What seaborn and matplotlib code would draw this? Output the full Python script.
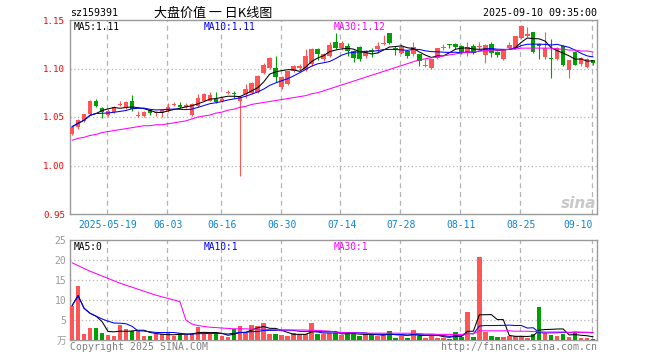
import numpy as np
import pandas as pd
import matplotlib
matplotlib.use("Agg")
import matplotlib.pyplot as plt
import seaborn as sns

# daily K-line of sz159391, 2025-05-09 .. 2025-09-10 (88 trading days)
opens = [1.032, 1.040, 1.046, 1.053, 1.067, 1.059, 1.052, 1.055, 1.062, 1.059,
         1.066, 1.051, 1.051, 1.057, 1.054, 1.054, 1.056, 1.062, 1.062, 1.060,
         1.052, 1.061, 1.067, 1.067, 1.069, 1.066, 1.075, 1.075, 1.066, 1.074,
         1.075, 1.076, 1.095, 1.101, 1.101, 1.081, 1.084, 1.097, 1.101, 1.098,
         1.105, 1.120, 1.110, 1.113, 1.127, 1.121, 1.123, 1.118, 1.122, 1.113,
         1.119, 1.120, 1.125, 1.137, 1.121, 1.116, 1.118, 1.115, 1.115, 1.103,
         1.101, 1.111, 1.121, 1.125, 1.125, 1.123, 1.116, 1.123, 1.122, 1.114,
         1.125, 1.117, 1.110, 1.121, 1.121, 1.131, 1.133, 1.138, 1.125, 1.112,
         1.111, 1.110, 1.123, 1.098, 1.117, 1.105, 1.102, 1.109]
closes = [1.040, 1.047, 1.053, 1.067, 1.061, 1.055, 1.056, 1.060, 1.063, 1.065,
          1.058, 1.052, 1.055, 1.054, 1.055, 1.057, 1.060, 1.063, 1.060, 1.062,
          1.063, 1.070, 1.074, 1.073, 1.065, 1.069, 1.076, 1.074, 1.071, 1.079,
          1.085, 1.092, 1.104, 1.111, 1.091, 1.091, 1.097, 1.103, 1.103, 1.113,
          1.120, 1.115, 1.115, 1.124, 1.121, 1.126, 1.118, 1.111, 1.110, 1.118,
          1.118, 1.123, 1.126, 1.126, 1.120, 1.122, 1.113, 1.122, 1.108, 1.104,
          1.110, 1.121, 1.122, 1.124, 1.122, 1.116, 1.122, 1.116, 1.123, 1.124,
          1.116, 1.114, 1.120, 1.124, 1.133, 1.144, 1.136, 1.117, 1.123, 1.121,
          1.110, 1.121, 1.104, 1.109, 1.104, 1.111, 1.110, 1.106]
highs = [1.041, 1.048, 1.053, 1.068, 1.069, 1.060, 1.058, 1.061, 1.066, 1.066,
         1.073, 1.056, 1.056, 1.058, 1.056, 1.058, 1.064, 1.065, 1.065, 1.064,
         1.064, 1.074, 1.075, 1.076, 1.076, 1.071, 1.078, 1.077, 1.072, 1.084,
         1.086, 1.093, 1.106, 1.112, 1.113, 1.092, 1.097, 1.104, 1.105, 1.120,
         1.121, 1.121, 1.116, 1.127, 1.137, 1.128, 1.126, 1.119, 1.123, 1.119,
         1.121, 1.127, 1.135, 1.137, 1.123, 1.125, 1.119, 1.127, 1.115, 1.110,
         1.110, 1.121, 1.125, 1.125, 1.126, 1.124, 1.127, 1.125, 1.127, 1.125,
         1.127, 1.118, 1.120, 1.127, 1.133, 1.145, 1.143, 1.138, 1.126, 1.138,
         1.130, 1.122, 1.124, 1.109, 1.118, 1.112, 1.111, 1.109]
lows = [1.031, 1.038, 1.045, 1.052, 1.060, 1.049, 1.051, 1.054, 1.061, 1.058,
        1.056, 1.050, 1.050, 1.052, 1.051, 1.050, 1.055, 1.061, 1.059, 1.059,
        1.051, 1.060, 1.066, 1.066, 1.064, 1.065, 1.074, 1.070, 0.989, 1.070,
        1.074, 1.075, 1.094, 1.100, 1.086, 1.079, 1.083, 1.096, 1.098, 1.097,
        1.103, 1.109, 1.108, 1.112, 1.120, 1.119, 1.113, 1.107, 1.108, 1.111,
        1.112, 1.116, 1.124, 1.125, 1.114, 1.115, 1.111, 1.113, 1.103, 1.102,
        1.100, 1.110, 1.119, 1.121, 1.120, 1.115, 1.113, 1.115, 1.120, 1.106,
        1.112, 1.112, 1.109, 1.120, 1.120, 1.130, 1.132, 1.116, 1.110, 1.110,
        1.090, 1.109, 1.103, 1.090, 1.104, 1.103, 1.101, 1.104]
# volume in 万手
volumes = [8.6, 13.6, 1.6, 2.9, 3.1, 1.8, 1.3, 1.1, 3.8, 2.8,
           2.3, 2.2, 1.1, 1.1, 1.4, 1.4, 1.7, 0.9, 1.8, 1.3,
           1.8, 3.3, 1.4, 1.4, 1.5, 0.9, 0.7, 2.7, 3.6, 1.7,
           3.8, 3.5, 4.2, 1.4, 1.6, 1.3, 1.0, 1.8, 1.4, 1.6,
           4.3, 1.4, 1.5, 1.8, 1.7, 1.25, 1.7, 1.7, 1.0, 1.4,
           1.4, 1.0, 1.4, 2.25, 0.6, 1.0, 0.6, 2.5, 1.1, 0.6,
           1.25, 0.6, 0.6, 0.3, 2.0, 0.8, 7.1, 0.8, 20.8, 2.1,
           1.0, 0.8, 0.8, 1.0, 1.0, 1.0, 0.6, 1.5, 8.3, 1.7,
           1.25, 1.0, 1.6, 0.8, 2.1, 0.4, 0.4, 0.3]
# 30-day averages (they need history before the window)
price_ma30 = [1.026, 1.028, 1.029, 1.031, 1.032, 1.034, 1.035, 1.036, 1.037, 1.038,
              1.039, 1.040, 1.041, 1.041, 1.042, 1.042, 1.043, 1.044, 1.045, 1.046,
              1.048, 1.050, 1.051, 1.052, 1.054, 1.055, 1.057, 1.058, 1.060, 1.061,
              1.063, 1.064, 1.065, 1.066, 1.067, 1.068, 1.069, 1.070, 1.071, 1.072,
              1.074, 1.075, 1.077, 1.079, 1.081, 1.083, 1.085, 1.087, 1.089, 1.091,
              1.093, 1.095, 1.097, 1.099, 1.101, 1.103, 1.105, 1.107, 1.109, 1.110,
              1.111, 1.112, 1.113, 1.114, 1.115, 1.116, 1.117, 1.117, 1.118, 1.118,
              1.119, 1.119, 1.119, 1.120, 1.120, 1.121, 1.121, 1.121, 1.121, 1.121,
              1.121, 1.120, 1.120, 1.119, 1.119, 1.118, 1.118, 1.117]
vol_ma30 = [19.3, 18.6, 17.9, 17.2, 16.6, 16.0, 15.4, 14.8, 14.2, 13.7,
            13.2, 12.7, 12.2, 11.7, 11.2, 10.8, 10.4, 10.0, 9.6, 5.0,
            4.0, 3.6, 3.4, 3.2, 3.1, 3.0, 2.9, 2.8, 2.8, 2.8,
            2.7, 2.7, 2.7, 2.6, 2.6, 2.5, 2.5, 2.5, 2.5, 2.5,
            2.4, 2.4, 2.3, 2.2, 2.0, 1.9, 1.8, 1.8, 1.7, 1.7,
            1.7, 1.7, 1.7, 1.7, 1.7, 1.7, 1.7, 1.7, 1.6, 1.5,
            1.5, 1.4, 1.4, 1.4, 1.4, 1.4, 1.6, 1.6, 2.3, 2.3,
            2.3, 2.3, 2.3, 2.3, 2.2, 2.2, 2.2, 2.1, 2.1, 2.0,
            2.0, 2.0, 2.0, 1.9, 1.9, 1.9, 1.9, 1.9]

tick_pos = [6, 16, 25, 35, 45, 55, 65, 75, 87]
tick_labels = ["2025-05-19", "06-03", "06-16", "06-30", "07-14",
               "07-28", "08-11", "08-25", "09-10"]

RED = "#ff5555"
GREEN = "#00a000"
GRID = "#b4b4b4"
MONO = "DejaVu Sans Mono"

df = pd.DataFrame({"open": opens, "high": highs, "low": lows, "close": closes,
                   "vol": volumes, "ma30": price_ma30, "vma30": vol_ma30})
df["x"] = np.arange(len(df))
df["ma5"] = df["close"].rolling(5, min_periods=1).mean()
df["ma10"] = df["close"].rolling(10, min_periods=1).mean()
df["vma5"] = df["vol"].rolling(5, min_periods=1).mean()
df["vma10"] = df["vol"].rolling(10, min_periods=1).mean()
df["dir"] = np.where(df["close"] >= df["open"], "up", "down")
colors = np.where(df["dir"] == "up", RED, GREEN)

sns.set_theme(style="white")
plt.rcParams["font.family"] = [MONO, "Noto Sans CJK SC"]

W, H = 660, 360
fig = plt.figure(figsize=(6.6, 3.6), dpi=100)


def box(l, t, r, b):
    return [l / W, 1 - b / H, (r - l) / W, (b - t) / H]


ax = fig.add_axes(box(70, 20, 597, 214))
axv = fig.add_axes(box(70, 240, 597, 340))

# candles
ax.vlines(df["x"], df["low"], df["high"], colors=colors, linewidth=0.8, zorder=3)
body_lo = np.minimum(df["open"], df["close"])
body_h = np.maximum((df["close"] - df["open"]).abs(), 0.0009)
ax.bar(df["x"], body_h, bottom=body_lo, width=0.76, color=colors, linewidth=0, zorder=4)

sns.lineplot(data=df, x="x", y="ma5", ax=ax, color="black", linewidth=0.75, zorder=5)
sns.lineplot(data=df, x="x", y="ma10", ax=ax, color="#0000ff", linewidth=0.75, zorder=5)
sns.lineplot(data=df, x="x", y="ma30", ax=ax, color="#ff00ff", linewidth=0.75, zorder=5)

# volume
sns.barplot(data=df, x="x", y="vol", hue="dir", palette={"up": RED, "down": GREEN},
            dodge=False, native_scale=True, width=0.76, errorbar=None,
            saturation=1, legend=False, linewidth=0, ax=axv, zorder=3)
sns.lineplot(data=df, x="x", y="vma5", ax=axv, color="black", linewidth=0.75, zorder=5)
sns.lineplot(data=df, x="x", y="vma10", ax=axv, color="#0000ff", linewidth=0.75, zorder=5)
sns.lineplot(data=df, x="x", y="vma30", ax=axv, color="#ff00ff", linewidth=0.75, zorder=5)

for a in (ax, axv):
    a.set_xlim(-0.35, 87.65)
    a.set_xlabel("")
    a.set_ylabel("")
    a.tick_params(length=0)
    for s in a.spines.values():
        s.set_color("#9a9a9a")
        s.set_linewidth(1.0)
    for p in tick_pos:
        a.axvline(p - 0.2, color=GRID, linestyle=(0, (4, 3)), linewidth=0.9, zorder=0)

ax.set_ylim(0.95, 1.15)
for v in (1.00, 1.05, 1.10):
    ax.axhline(v, color=GRID, linestyle=(0, (1, 2)), linewidth=0.9, zorder=0)
ax.set_yticks([0.95, 1.00, 1.05, 1.10, 1.15])
ax.set_yticklabels(["0.95", "1.00", "1.05", "1.10", "1.15"], color="#ff0000",
                   fontsize=6.6, family=MONO)
ax.tick_params(axis="y", pad=3.5)
ax.set_xticks(tick_pos)
ax.set_xticklabels(tick_labels, color="#0a84d6", fontsize=7, family=MONO)
ax.tick_params(axis="x", pad=4)
ax.get_xticklabels()[-1].set_ha("right")

axv.set_ylim(0, 25)
for v in (5, 10, 15, 20):
    axv.axhline(v, color=GRID, linestyle=(0, (1, 2)), linewidth=0.9, zorder=0)
axv.set_yticks([0, 5, 10, 15, 20, 25])
axv.set_yticklabels(["万", "5", "10", "15", "20", "25"], color="#9a9a9a", fontsize=7)
axv.tick_params(axis="y", pad=2.5)
axv.set_xticks([])


def ftext(x, y, s, **kw):
    fig.text(x / W, 1 - y / H, s, va="center", **kw)


# header
ftext(70, 13, "sz159391", fontsize=7.2, color="black")
ftext(213, 13, "大盘价值 一 日K线图", fontsize=9.4, ha="center", color="black",
      family=["Noto Sans CJK SC", "DejaVu Sans"])
ftext(597, 13, "2025-09-10 09:35:00", fontsize=7.2, ha="right", color="black")

# MA legends
last = df.iloc[-1]
ftext(74, 27, f"MA5:{last['ma5']:.2f}", fontsize=6.9, color="black")
ftext(204, 27, f"MA10:{last['ma10']:.2f}", fontsize=6.9, color="#0000ff")
ftext(334, 27, f"MA30:{last['ma30']:.2f}", fontsize=6.9, color="#ff00ff")
ftext(74, 247, f"MA5:{int(last['vma5'])}", fontsize=6.9, color="black")
ftext(204, 247, f"MA10:{int(last['vma10'])}", fontsize=6.9, color="#0000ff")
ftext(334, 247, f"MA30:{int(last['vma30'])}", fontsize=6.9, color="#ff00ff")

# watermark and footer
ftext(596, 203, "sina", fontsize=11, ha="right", color="#c8c8c8",
      style="italic", weight="bold", family="DejaVu Sans")
ftext(70, 347, "Copyright 2025 SINA.COM", fontsize=7.1, color="#808080")
ftext(597, 347, "http://finance.sina.com.cn", fontsize=7.1, ha="right", color="#808080")

fig.savefig("out.png", dpi=100)
